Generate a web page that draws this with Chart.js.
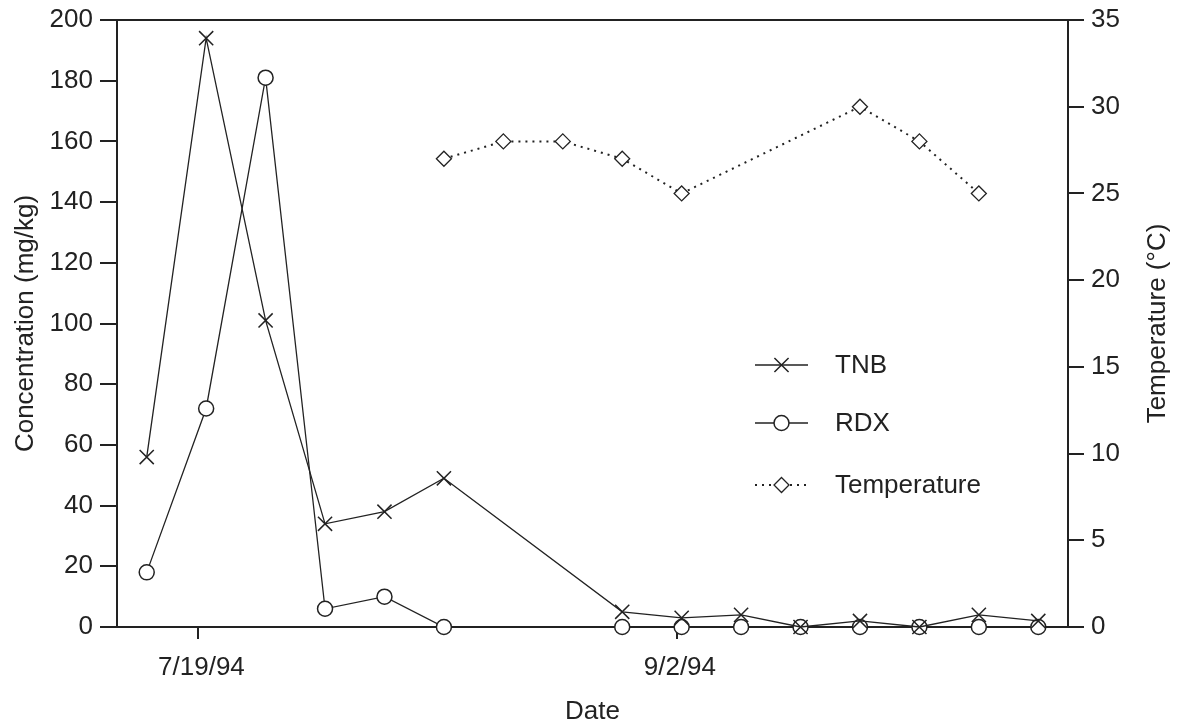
<!DOCTYPE html>
<html>
<head>
<meta charset="utf-8">
<script src="https://cdn.jsdelivr.net/npm/chart.js@4.4.1/dist/chart.umd.min.js"></script>
<style>
    html, body { margin: 0; padding: 0; background: #fff; }
    #wrap { width: 1180px; height: 728px; }
</style>
</head>
<body>
<div id="wrap"><canvas id="chart" width="1180" height="728"></canvas></div>
<script>
// one entry per sampling date, in order
const tnb = [56, 194, 101, 34, 38, 49, null, null, 5, 3, 4, 0, 2, 0, 4, 2];
const rdx = [18, 72, 181, 6, 10, 0, null, null, 0, 0, 0, 0, 0, 0, 0, 0];
const temperature = [null, null, null, null, null, 27, 28, 28, 27, 25, null, null, 30, 28, 25, null];

const dateLabels = ['7/19/94', '9/2/94'];
const dateLabelAt = [0.87, 8.92];   // position along the sample sequence

const INK = '#222';
const FONT = '"Liberation Sans", Arial, sans-serif';

const toPoints = arr => arr.map((v, i) => ({ x: i, y: v }));

function drawMarker(ctx, style, x, y) {
    ctx.beginPath();
    if (style === 'crossRot') {
        const d = 10 * Math.SQRT1_2;
        ctx.moveTo(x - d, y - d); ctx.lineTo(x + d, y + d);
        ctx.moveTo(x - d, y + d); ctx.lineTo(x + d, y - d);
        ctx.stroke();
        return;
    }
    if (style === 'circle') {
        ctx.arc(x, y, 7.5, 0, Math.PI * 2);
    } else {
        ctx.moveTo(x, y - 7.5); ctx.lineTo(x + 7.5, y);
        ctx.lineTo(x, y + 7.5); ctx.lineTo(x - 7.5, y);
        ctx.closePath();
    }
    ctx.fillStyle = '#fff';
    ctx.fill();
    ctx.stroke();
}

const framePlugin = {
    id: 'frame',
    afterDraw(chart) {
        const { ctx, chartArea } = chart;
        ctx.save();
        ctx.strokeStyle = INK;
        ctx.lineWidth = 2;
        ctx.beginPath();
        ctx.moveTo(chartArea.left, chartArea.top);
        ctx.lineTo(chartArea.right, chartArea.top);
        ctx.stroke();

        // right axis title reads bottom to top, like the left one
        ctx.save();
        ctx.translate(chart.width - 22, (chartArea.top + chartArea.bottom) / 2);
        ctx.rotate(-Math.PI / 2);
        ctx.fillStyle = INK;
        ctx.font = '26px ' + FONT;
        ctx.textAlign = 'center';
        ctx.textBaseline = 'middle';
        ctx.fillText('Temperature (°C)', 0, 0);
        ctx.restore();

        // legend inside the plot
        const x0 = chartArea.left + 638;
        const rows = [chartArea.top + 345, chartArea.top + 403, chartArea.top + 465];
        chart.data.datasets.forEach((ds, i) => {
            const y = rows[i];
            ctx.strokeStyle = INK;
            ctx.lineWidth = ds.borderWidth;
            ctx.setLineDash(ds.borderDash || []);
            ctx.beginPath();
            ctx.moveTo(x0, y);
            ctx.lineTo(x0 + 53, y);
            ctx.stroke();
            ctx.setLineDash([]);
            ctx.lineWidth = ds.pointBorderWidth;
            drawMarker(ctx, ds.pointStyle, x0 + 26.5, y);
            ctx.fillStyle = INK;
            ctx.font = '26px ' + FONT;
            ctx.textAlign = 'left';
            ctx.textBaseline = 'middle';
            ctx.fillText(ds.label, x0 + 80, y + 1);
        });
        ctx.restore();
    }
};

const tickFont = { family: FONT, size: 26 };
const yTickFont = { family: FONT, size: 26, lineHeight: 1 };
const titleFont = { family: FONT, size: 26 };

new Chart(document.getElementById('chart'), {
    type: 'line',
    data: {
        datasets: [
            {
                label: 'TNB',
                data: toPoints(tnb),
                yAxisID: 'y',
                borderColor: INK,
                borderWidth: 1.3,
                pointStyle: 'crossRot',
                pointRadius: 10,
                pointBorderWidth: 1.5,
                pointBorderColor: INK,
                pointBackgroundColor: INK,
                spanGaps: true,
                clip: false
            },
            {
                label: 'RDX',
                data: toPoints(rdx),
                yAxisID: 'y',
                borderColor: INK,
                borderWidth: 1.3,
                pointStyle: 'circle',
                pointRadius: 7.5,
                pointBorderWidth: 1.5,
                pointBorderColor: INK,
                pointBackgroundColor: '#fff',
                spanGaps: true,
                clip: false
            },
            {
                label: 'Temperature',
                data: toPoints(temperature),
                yAxisID: 'y2',
                borderColor: INK,
                borderWidth: 2,
                borderDash: [2, 5],
                pointStyle: 'rectRot',
                pointRadius: 7.5,
                pointBorderWidth: 1.3,
                pointBorderColor: INK,
                pointBackgroundColor: '#fff',
                spanGaps: true,
                clip: false
            }
        ]
    },
    options: {
        responsive: false,
        animation: false,
        devicePixelRatio: 1,
        layout: { padding: { top: 20 } },
        plugins: {
            legend: { display: false },
            tooltip: { enabled: false }
        },
        scales: {
            x: {
                type: 'linear',
                min: -0.5,
                max: 15.5,
                afterBuildTicks: s => { s.ticks = dateLabelAt.map(v => ({ value: v })); },
                afterFit: s => { s.height = 101; },
                ticks: {
                    color: INK,
                    font: tickFont,
                    padding: 13,
                    labelOffset: 3,
                    maxRotation: 0,
                    callback: (v, i) => dateLabels[i]
                },
                grid: {
                    drawOnChartArea: false,
                    tickLength: 12,
                    tickColor: INK,
                    lineWidth: 2
                },
                border: { color: INK, width: 2 },
                title: {
                    display: true,
                    text: 'Date',
                    color: INK,
                    font: titleFont,
                    padding: { top: 0, bottom: 1 }
                }
            },
            y: {
                position: 'left',
                min: 0,
                max: 200,
                afterFit: s => { s.width = 117; },
                ticks: { stepSize: 20, color: INK, font: yTickFont, padding: 7 },
                grid: {
                    drawOnChartArea: false,
                    tickLength: 17,
                    tickColor: INK,
                    lineWidth: 2
                },
                border: { color: INK, width: 2 },
                title: {
                    display: true,
                    text: 'Concentration (mg/kg)',
                    color: INK,
                    font: titleFont,
                    padding: { top: 10, bottom: 0 }
                }
            },
            y2: {
                position: 'right',
                min: 0,
                max: 35,
                afterFit: s => { s.width = 112; },
                ticks: { stepSize: 5, color: INK, font: yTickFont, padding: 7 },
                grid: {
                    drawOnChartArea: false,
                    tickLength: 16,
                    tickColor: INK,
                    lineWidth: 2
                },
                border: { color: INK, width: 2 }
            }
        }
    },
    plugins: [framePlugin]
});
</script>
</body>
</html>
